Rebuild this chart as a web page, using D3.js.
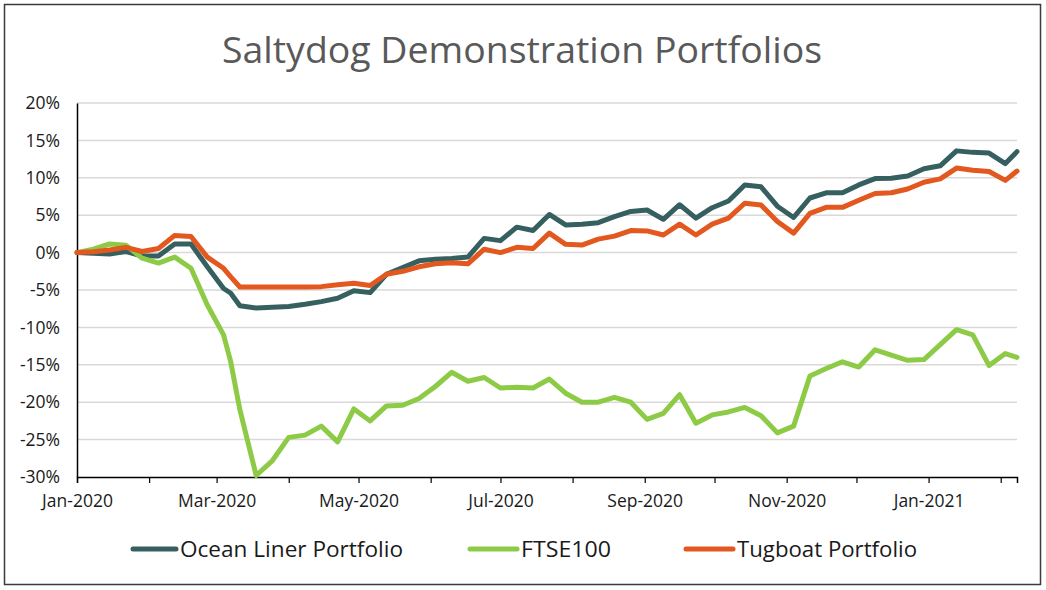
<!DOCTYPE html>
<html>
<head>
<meta charset="utf-8">
<script src="https://cdn.jsdelivr.net/npm/d3@7"></script>
<style>
  html, body { margin: 0; padding: 0; background: #ffffff; }
  svg { display: block; }
</style>
</head>
<body>
<svg id="chart" width="1046" height="590"></svg>
<script>
// ---------------- DATA ----------------
const dates = [
  "2020-01-03","2020-01-10","2020-01-17","2020-01-24","2020-01-31",
  "2020-02-07","2020-02-14","2020-02-21","2020-02-28",
  "2020-03-06","2020-03-09","2020-03-13","2020-03-20","2020-03-27",
  "2020-04-03","2020-04-10","2020-04-17","2020-04-24",
  "2020-05-01","2020-05-08","2020-05-15","2020-05-22","2020-05-29",
  "2020-06-05","2020-06-12","2020-06-19","2020-06-26",
  "2020-07-03","2020-07-10","2020-07-17","2020-07-24","2020-07-31",
  "2020-08-07","2020-08-14","2020-08-21","2020-08-28",
  "2020-09-04","2020-09-11","2020-09-18","2020-09-25",
  "2020-10-02","2020-10-09","2020-10-16","2020-10-23","2020-10-30",
  "2020-11-06","2020-11-13","2020-11-20","2020-11-27",
  "2020-12-04","2020-12-11","2020-12-18","2020-12-25",
  "2021-01-01","2021-01-08","2021-01-15","2021-01-22","2021-01-29",
  "2021-02-05","2021-02-10"
];

const oceanLiner = [
  0, -0.1, -0.2, 0.15, -0.45, -0.45, 1.15, 1.15, -1.9,
  -4.8, -5.4, -7.1, -7.4, -7.3, -7.2, -6.9, -6.55, -6.1,
  -5.1, -5.35, -2.9, -2.0, -1.1, -0.9, -0.8, -0.6, 1.9,
  1.6, 3.4, 2.95, 5.1, 3.7, 3.8, 4.0, 4.8, 5.5,
  5.7, 4.45, 6.4, 4.6, 6.0, 6.9, 9.05, 8.8, 6.2,
  4.7, 7.3, 8.0, 8.0, 9.05, 9.9, 9.95, 10.25, 11.2,
  11.6, 13.6, 13.4, 13.3, 11.9, 13.5
];

const ftse100 = [
  0, 0.45, 1.15, 1.0, -0.75, -1.4, -0.6, -2.1, -7.0,
  -11.0, -14.5, -21.0, -29.8, -27.8, -24.7, -24.4, -23.2, -25.3,
  -20.9, -22.5, -20.5, -20.4, -19.5, -17.9, -16.0, -17.2, -16.7,
  -18.1, -18.0, -18.1, -16.9, -18.8, -20.0, -20.0, -19.35, -20.0,
  -22.3, -21.5, -19.0, -22.8, -21.7, -21.3, -20.7, -21.8, -24.1,
  -23.2, -16.5, -15.5, -14.6, -15.3, -13.0, -13.7, -14.4, -14.3,
  -12.3, -10.3, -11.0, -15.1, -13.5, -14.0
];

const tugboat = [
  0, 0.1, 0.35, 0.7, 0.15, 0.55, 2.3, 2.15, -0.6,
  -2.1, -3.2, -4.6, -4.6, -4.6, -4.6, -4.6, -4.55, -4.3,
  -4.1, -4.4, -2.9, -2.5, -1.9, -1.5, -1.35, -1.5, 0.45,
  0.0, 0.7, 0.55, 2.6, 1.1, 1.0, 1.8, 2.2, 2.95,
  2.9, 2.35, 3.8, 2.35, 3.8, 4.6, 6.6, 6.35, 4.15,
  2.6, 5.25, 6.05, 6.05, 7.0, 7.9, 8.0, 8.5, 9.4,
  9.85, 11.3, 11.0, 10.85, 9.65, 10.9
];

const seriesNames = ["Ocean Liner Portfolio", "FTSE100", "Tugboat Portfolio"];
const seriesColors = ["#36605F", "#8DCB47", "#E2581F"];
const yTicks = [-30, -25, -20, -15, -10, -5, 0, 5, 10, 15, 20];
const xTickDates = [
  "2020-01-03","2020-02-03","2020-03-03","2020-04-03","2020-05-03","2020-06-03",
  "2020-07-03","2020-08-03","2020-09-03","2020-10-03","2020-11-03","2020-12-03",
  "2021-01-03","2021-02-03"
];
const xTickLabels = [
  "Jan-2020","","Mar-2020","","May-2020","",
  "Jul-2020","","Sep-2020","","Nov-2020","",
  "Jan-2021",""
];
const titleText = "Saltydog Demonstration Portfolios";

// ---------------- CHART ----------------
const parse = d3.utcParse("%Y-%m-%d");
const dateObjs = dates.map(parse);
const allSeries = [oceanLiner, ftse100, tugboat];

const svg = d3.select("#chart");
const W = 1046, H = 590;
const plot = { left: 77, right: 1017, top: 103, bottom: 477 };
const FONT = "'Open Sans', 'DejaVu Sans', sans-serif";

// outer border
svg.append("rect")
  .attr("x", 4.5).attr("y", 4.5)
  .attr("width", 1036).attr("height", 580)
  .attr("fill", "#ffffff")
  .attr("stroke", "#3a3a3a")
  .attr("stroke-width", 1.5);

const x = d3.scaleUtc()
  .domain([dateObjs[0], dateObjs[dateObjs.length - 1]])
  .range([plot.left, plot.right]);

const y = d3.scaleLinear()
  .domain([-30, 20])
  .range([plot.bottom, plot.top]);

// title
svg.append("text")
  .attr("x", 522).attr("y", 63)
  .attr("text-anchor", "middle")
  .attr("font-family", FONT)
  .attr("font-size", 37)
  .attr("fill", "#595959")
  .attr("textLength", 600)
  .attr("lengthAdjust", "spacingAndGlyphs")
  .text(titleText);

// gridlines
svg.append("g")
  .selectAll("line")
  .data(yTicks.filter(t => t !== -30))
  .join("line")
  .attr("x1", plot.left).attr("x2", plot.right)
  .attr("y1", d => y(d)).attr("y2", d => y(d))
  .attr("stroke", "#D9D9D9")
  .attr("stroke-width", 1.5);

// y axis
const yAxis = svg.append("g")
  .attr("transform", `translate(${plot.left},0)`)
  .call(d3.axisLeft(y).tickValues(yTicks).tickSize(0).tickPadding(17).tickFormat(d => d + "%"));
yAxis.select(".domain").attr("stroke", "#000").attr("stroke-width", 1.5);
yAxis.selectAll("text")
  .attr("font-family", FONT)
  .attr("font-size", 17.5)
  .attr("fill", "#1a1a1a");

// x axis
const xAxis = svg.append("g")
  .attr("transform", `translate(0,${plot.bottom})`)
  .call(d3.axisBottom(x)
    .tickValues(xTickDates.map(parse))
    .tickSize(6)
    .tickPadding(12)
    .tickFormat((d, i) => xTickLabels[i]));
xAxis.select(".domain").attr("stroke", "#000").attr("stroke-width", 1.5);
xAxis.selectAll(".tick line").attr("stroke", "#000").attr("stroke-width", 1.2);
xAxis.selectAll("text")
  .attr("font-family", FONT)
  .attr("font-size", 17.5)
  .attr("fill", "#1a1a1a");

// lines
const line = d3.line()
  .x((d, i) => x(dateObjs[i]))
  .y(d => y(d));

svg.append("g")
  .selectAll("path")
  .data(allSeries)
  .join("path")
  .attr("d", d => line(d))
  .attr("fill", "none")
  .attr("stroke", (d, i) => seriesColors[i])
  .attr("stroke-width", 5)
  .attr("stroke-linejoin", "round")
  .attr("stroke-linecap", "round");

// legend
const legendItems = [
  { lx: 133, tx: 180, w: 223 },
  { lx: 470, tx: 521, w: 90 },
  { lx: 686, tx: 737, w: 180 }
];
const lg = svg.append("g");
seriesNames.forEach((name, i) => {
  const it = legendItems[i];
  lg.append("line")
    .attr("x1", it.lx).attr("x2", it.tx - 4)
    .attr("y1", 549).attr("y2", 549)
    .attr("stroke", seriesColors[i])
    .attr("stroke-width", 5)
    .attr("stroke-linecap", "round");
  lg.append("text")
    .attr("x", it.tx).attr("y", 557)
    .attr("font-family", FONT)
    .attr("font-size", 22)
    .attr("fill", "#1a1a1a")
    .attr("textLength", it.w)
    .attr("lengthAdjust", "spacingAndGlyphs")
    .text(name);
});
</script>
</body>
</html>
